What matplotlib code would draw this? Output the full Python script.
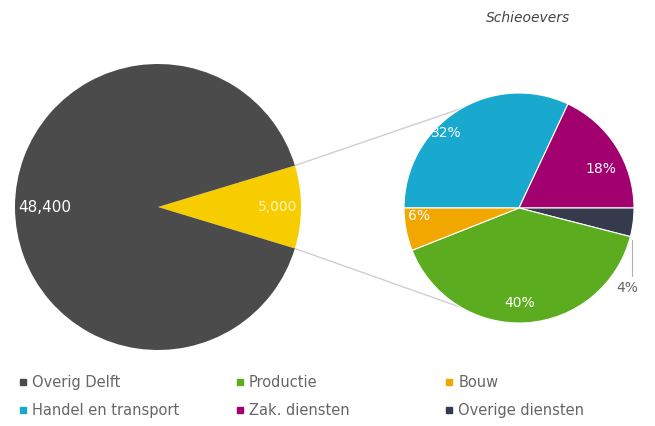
import numpy as np
import matplotlib.pyplot as plt
from matplotlib.lines import Line2D

# totaal Delft vs Schieoevers (werkgelegenheid)
big_labels = ['Schieoevers', 'Overig Delft']
big_values = [5000, 48400]
big_text = ['5,000', '48,400']

# verdeling Schieoevers, met de klok mee vanaf links
small_labels = ['Handel en transport', 'Zak. diensten', 'Overige diensten', 'Productie', 'Bouw']
small_values = [32, 18, 4, 40, 6]

legend_order = ['Overig Delft', 'Handel en transport', 'Productie', 'Zak. diensten', 'Bouw', 'Overige diensten']

colors = {
    'Overig Delft': '#4b4b4b',
    'Schieoevers': '#f7cd00',
    'Handel en transport': '#19a9cf',
    'Zak. diensten': '#a3006f',
    'Overige diensten': '#353a4c',
    'Productie': '#5cac1f',
    'Bouw': '#f2a600',
}
txt_grey = '#666666'

# label plaatsing (hoekcorrectie in graden, straal als fractie)
label_tweak = {
    'Handel en transport': (12, 0.91),
    'Zak. diensten': (-7, 0.79),
    'Productie': (-3, 0.83),
    'Bouw': (-6, 0.87),
}

W, H = 655, 426
fig = plt.figure(figsize=(W / 100, H / 100), dpi=100)
ax = fig.add_axes([0, 0, 1, 1])

# grote taart
c1 = (158, H - 207)
r1 = 143
theta = 360 * big_values[0] / sum(big_values)
ax.pie(big_values, colors=[colors[l] for l in big_labels], center=c1, radius=r1,
       startangle=-theta / 2, frame=True)
ax.text(c1[0] + 0.84 * r1, c1[1], big_text[0], color='#fff4c0', fontsize=10, ha='center', va='center')
ax.text(c1[0] - 0.79 * r1, c1[1], big_text[1], color='white', fontsize=11, ha='center', va='center')

# kleine taart
c2 = (519, H - 208)
r2 = 115
ax.pie(small_values, colors=[colors[l] for l in small_labels], center=c2, radius=r2,
       startangle=180, counterclock=False, frame=True,
       wedgeprops=dict(linewidth=0.8, edgecolor='white'))

ax.set_xlim(0, W)
ax.set_ylim(0, H)
ax.set_aspect('equal')
ax.axis('off')

# verbindingslijnen
for sgn in (1, -1):
    a = np.deg2rad(sgn * theta / 2)
    b = np.deg2rad(180 - sgn * 60)
    p = (c1[0] + r1 * np.cos(a), c1[1] + r1 * np.sin(a))
    q = (c2[0] + r2 * np.cos(b), c2[1] + r2 * np.sin(b))
    ax.plot([p[0], q[0]], [p[1], q[1]], color='#cfcfcf', lw=1, zorder=0)

# percentages
cum = 0
for lab, v in zip(small_labels, small_values):
    mid_deg = 180 - 3.6 * (cum + v / 2)
    cum += v
    if v < 5:
        mid = np.deg2rad(mid_deg - 6)
        x0 = c2[0] + r2 * np.cos(mid)
        y0 = c2[1] + r2 * np.sin(mid)
        ax.plot([x0 + 1, x0 + 1], [y0 - 6, H - 276], color='#b0b0b0', lw=0.8)
        ax.text(x0 - 4, H - 288, f'{v}%', color=txt_grey, fontsize=10, ha='center', va='center')
        continue
    da, f = label_tweak[lab]
    mid = np.deg2rad(mid_deg + da)
    ax.text(c2[0] + f * r2 * np.cos(mid), c2[1] + f * r2 * np.sin(mid), f'{v}%',
            color='white', fontsize=10, ha='center', va='center')

ax.text(528, H - 18, 'Schieoevers', color='#444444', fontsize=10, style='italic', ha='center', va='center')

# legenda in drie kolommen
cols = [legend_order[0:2], legend_order[2:4], legend_order[4:6]]
xs = [0.014, 0.345, 0.665]
for x, items in zip(xs, cols):
    handles = [Line2D([], [], marker='s', ls='', color=colors[l], markersize=4) for l in items]
    fig.legend(handles, items, loc='upper left', bbox_to_anchor=(x, 0.136), frameon=False,
               fontsize=10.5, handletextpad=0.15, handlelength=0.9, labelspacing=0.85,
               borderpad=0, labelcolor=txt_grey)

fig.savefig('out.png', dpi=100)
